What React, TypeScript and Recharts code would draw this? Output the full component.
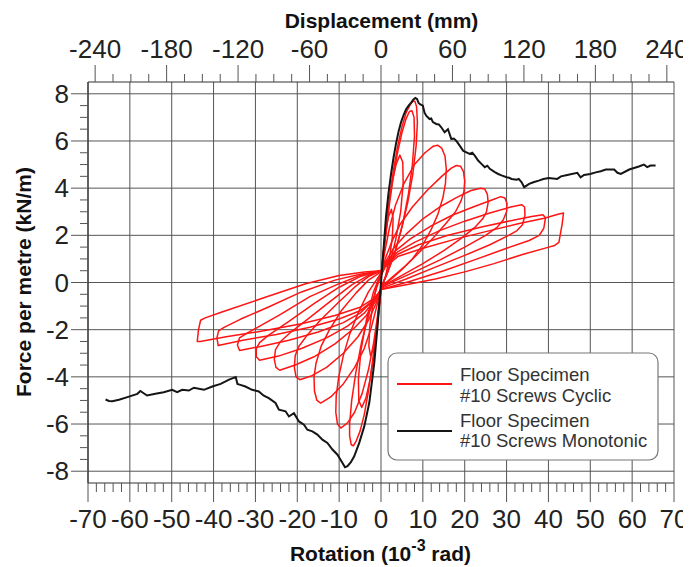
import React from 'react';
import { LineChart, Line, XAxis, YAxis, CartesianGrid } from 'recharts';

type Pt = [number, number];

// ---------- axis ticks / labels ----------
const rotationTicks = [-70,-68,-66,-64,-62,-60,-58,-56,-54,-52,-50,-48,-46,-44,-42,-40,-38,-36,-34,-32,-30,-28,-26,-24,-22,-20,-18,-16,-14,-12,-10,-8,-6,-4,-2,0,2,4,6,8,10,12,14,16,18,20,22,24,26,28,30,32,34,36,38,40,42,44,46,48,50,52,54,56,58,60,62,64,66,68,70];
const rotationLabels = [-70,-60,-50,-40,-30,-20,-10,0,10,20,30,40,50,60,70];
const displacementTicks = [-240,-225,-210,-195,-180,-165,-150,-135,-120,-105,-90,-75,-60,-45,-30,-15,0,15,30,45,60,75,90,105,120,135,150,165,180,195,210,225,240];
const displacementLabels = [-240,-180,-120,-60,0,60,120,180,240];
const forceTicks = [-8,-7.5,-7,-6.5,-6,-5.5,-5,-4.5,-4,-3.5,-3,-2.5,-2,-1.5,-1,-0.5,0,0.5,1,1.5,2,2.5,3,3.5,4,4.5,5,5.5,6,6.5,7,7.5,8];
const forceLabels = [-8,-6,-4,-2,0,2,4,6,8];
const gridRotations = [-70,-60,-50,-40,-30,-20,-10,0,10,20,30,40,50,60,70];
const gridForces = [-8,-6,-4,-2,0,2,4,6,8];

// ---------- cyclic test: positive half-loops ----------
const posLoop1: Pt[] = [[0,0.3],[1,1.9],[2,3.5],[3,4.8],[4,5.8],[5,6.6],[6,7.2],[7,7.55],[7.6,7.68],[8.1,7.68],[8.5,7.45],[8.7,6.8],[8.4,5.8],[7.6,4.6],[6.4,3.4],[4.8,2.2],[3,1.1],[1.3,0.3],[0,-0.2]];
const posLoop2: Pt[] = [[0,0.3],[1,1.8],[2,3.3],[3,4.55],[4,5.55],[5,6.35],[6,6.95],[6.8,7.25],[7.4,7.28],[7.9,7.0],[8.0,6.2],[7.5,5.0],[6.6,3.8],[5.2,2.5],[3.4,1.3],[1.4,0.35],[0,-0.2]];
const posLoop3: Pt[] = [[0,0.3],[0.8,1.2],[2,2.3],[3.5,3.3],[5.5,4.2],[8,5.0],[10.5,5.5],[12.5,5.78],[13.5,5.82],[14.5,5.7],[15.3,5.35],[15.6,4.8],[15.4,4.2],[14.8,3.6],[13.6,2.9],[12,2.25],[10,1.6],[7.5,1.0],[5,0.55],[2.5,0.15],[0,-0.2]];
const posLoop4: Pt[] = [[0,0.3],[1,1.0],[2.5,1.7],[4.5,2.45],[7.5,3.2],[11,3.9],[14.5,4.5],[16.8,4.85],[18,4.96],[19,4.93],[19.7,4.7],[20,4.3],[19.8,3.85],[19.1,3.45],[17.8,3.0],[15.5,2.5],[12.5,1.9],[9,1.25],[5.5,0.65],[2.5,0.2],[0,-0.2]];
const posLoop5: Pt[] = [[0,0.3],[1,0.85],[3,1.45],[6,2.05],[10,2.7],[14,3.2],[18,3.6],[21.5,3.9],[23.8,4.0],[24.8,3.96],[25.4,3.75],[25.6,3.4],[25.2,3.0],[24.3,2.7],[22.5,2.35],[19,1.85],[15,1.35],[10,0.8],[5,0.3],[0,-0.2]];
const posLoop6: Pt[] = [[0,0.3],[1,0.8],[3.5,1.35],[7,1.85],[12,2.4],[17,2.85],[22,3.2],[26.5,3.5],[28.6,3.64],[29.6,3.58],[30.1,3.35],[30,3.0],[29.2,2.65],[27.8,2.35],[25,2.0],[20,1.5],[14,0.95],[8,0.45],[3,0.05],[0,-0.2]];
const posLoop7: Pt[] = [[0,0.3],[1,0.75],[4,1.3],[8,1.7],[14,2.2],[20,2.6],[26,2.95],[31,3.2],[33.6,3.3],[34.3,3.2],[34.4,2.85],[33.8,2.45],[32.5,2.2],[30.5,2.0],[26,1.6],[20,1.15],[13,0.65],[6,0.15],[0,-0.25]];
const posLoop8: Pt[] = [[0,0.3],[1,0.7],[4,1.2],[9,1.6],[16,2.0],[24,2.35],[31,2.62],[36,2.8],[38.7,2.87],[39.3,2.75],[38.9,2.3],[37.8,2.0],[35.4,1.78],[30,1.45],[23,1.0],[15,0.5],[7,0.05],[0,-0.3]];
const posLoop9: Pt[] = [[0,0.3],[1,0.65],[4,1.1],[10,1.45],[18,1.85],[26,2.2],[33,2.5],[39,2.72],[42.5,2.9],[43.6,2.95],[43.3,2.5],[42.5,1.7],[41.5,1.57],[40.1,1.5],[34,1.2],[27,0.8],[20,0.45],[13,0.15],[6,-0.1],[0,-0.3]];

// ---------- cyclic test: negative half-loops ----------
const negLoop1: Pt[] = [[0,-0.3],[-1,-1.8],[-2,-3.3],[-3,-4.6],[-4,-5.6],[-5,-6.3],[-6,-6.75],[-6.6,-6.92],[-7.1,-6.88],[-7.5,-6.5],[-7.5,-6.0],[-7,-5.0],[-6,-3.8],[-4.6,-2.5],[-2.8,-1.3],[-1.2,-0.3],[0,0.3]];
const negLoop2: Pt[] = [[0,-0.3],[-0.8,-1.4],[-1.8,-2.6],[-3,-3.7],[-4.5,-4.7],[-6.3,-5.5],[-8,-5.95],[-9.6,-6.17],[-10.4,-6.0],[-10.8,-5.5],[-10.7,-4.8],[-10.1,-4.0],[-9,-3.1],[-7.5,-2.2],[-5.5,-1.3],[-3,-0.4],[0,0.4]];
const negLoop3: Pt[] = [[0,-0.3],[-1,-1.0],[-2.3,-1.9],[-4,-2.8],[-6.3,-3.6],[-9,-4.3],[-12,-4.85],[-14.4,-5.11],[-15.3,-5.0],[-15.9,-4.6],[-16,-4.0],[-15.5,-3.4],[-14.3,-2.7],[-12.3,-2.0],[-9.5,-1.2],[-6,-0.45],[-3,0.1],[0,0.45]];
const negLoop4: Pt[] = [[0,-0.3],[-1.2,-0.9],[-3,-1.6],[-5.5,-2.3],[-9,-3.0],[-13,-3.6],[-16.5,-3.95],[-19.4,-4.12],[-20.3,-4.0],[-20.7,-3.6],[-20.5,-3.1],[-19.6,-2.7],[-17.5,-2.2],[-14.5,-1.6],[-10.5,-0.9],[-6,-0.15],[-3,0.25],[0,0.5]];
const negLoop5: Pt[] = [[0,-0.3],[-1.3,-0.8],[-3.5,-1.4],[-6.5,-1.95],[-11,-2.6],[-16,-3.15],[-20.5,-3.5],[-24.2,-3.72],[-25.1,-3.6],[-25.5,-3.25],[-25.2,-2.85],[-24,-2.5],[-21.5,-2.1],[-17.5,-1.55],[-12.5,-0.85],[-7,-0.1],[-3,0.3],[0,0.5]];
const negLoop6: Pt[] = [[0,-0.3],[-1.5,-0.75],[-4,-1.3],[-8,-1.85],[-13,-2.35],[-19,-2.8],[-24.5,-3.12],[-29,-3.3],[-29.8,-3.15],[-29.8,-2.8],[-29,-2.55],[-27,-2.25],[-22,-1.65],[-16,-0.9],[-10,-0.2],[-5,0.25],[0,0.5]];
const negLoop7: Pt[] = [[0,-0.3],[-1.5,-0.7],[-5,-1.3],[-9,-1.7],[-15,-2.1],[-22,-2.45],[-29,-2.72],[-33.8,-2.88],[-34.3,-2.65],[-33.8,-2.35],[-32.5,-2.2],[-29.5,-1.9],[-24,-1.35],[-17,-0.6],[-10,-0.05],[-5,0.3],[0,0.5]];
const negLoop8: Pt[] = [[0,-0.3],[-1.5,-0.7],[-5,-1.2],[-10,-1.55],[-17,-1.9],[-25,-2.2],[-33,-2.45],[-38.9,-2.67],[-39.2,-2.35],[-38.8,-2.05],[-37.5,-1.9],[-33.5,-1.55],[-27,-1.05],[-19,-0.4],[-11,0.1],[-5,0.35],[0,0.5]];
const negLoop9: Pt[] = [[0,-0.3],[-1.5,-0.65],[-5,-1.05],[-11,-1.4],[-19,-1.75],[-28,-2.05],[-37,-2.3],[-43.2,-2.5],[-43.9,-2.5],[-43.6,-2.0],[-43.1,-1.6],[-42,-1.5],[-38,-1.25],[-28,-0.65],[-18,-0.05],[-10,0.3],[-4,0.45],[0,0.5]];

// ---------- cyclic test: small early cycles ----------
const smallLoop1: Pt[] = [[0,0.3],[0.6,1.3],[1.2,2.2],[1.8,2.8],[2.5,3.1],[2.9,2.7],[2.7,1.9],[2.0,1.0],[1.0,0.2],[0,-0.3],[-0.6,-1.3],[-1.2,-2.2],[-1.8,-2.8],[-2.5,-3.1],[-2.9,-2.7],[-2.7,-1.9],[-2.0,-1.0],[-1.0,-0.1],[0,0.4]];
const smallLoop2: Pt[] = [[0,0.3],[0.8,1.7],[1.6,3.0],[2.6,4.2],[3.6,5.0],[4.5,5.4],[5.2,5.1],[5.3,4.2],[4.7,3.0],[3.5,1.8],[1.8,0.6],[0,-0.3],[-0.8,-1.7],[-1.6,-3.0],[-2.6,-4.1],[-3.6,-4.9],[-4.6,-5.3],[-5.3,-5.0],[-5.4,-4.1],[-4.8,-2.9],[-3.5,-1.6],[-1.8,-0.4],[0,0.4]];

// ---------- monotonic test ----------
const monotonicNegative: Pt[] = [[-65.8,-4.96],[-65,-5.02],[-64.2,-5.03],[-62.6,-4.97],[-60.6,-4.86],[-58.2,-4.72],[-57.5,-4.6],[-55.9,-4.79],[-53.9,-4.72],[-51.9,-4.65],[-49.9,-4.55],[-48.7,-4.65],[-47.5,-4.55],[-45.9,-4.58],[-44.7,-4.46],[-42.3,-4.55],[-40.3,-4.41],[-38.3,-4.3],[-36.3,-4.12],[-34.7,-4.01],[-34.3,-4.3],[-33.6,-4.34],[-32.4,-4.41],[-30.8,-4.55],[-29.2,-4.62],[-28,-4.8],[-26.8,-4.9],[-25.2,-5.11],[-24.4,-5.39],[-22.8,-5.46],[-22,-5.68],[-20.8,-5.54],[-19.6,-5.89],[-18.4,-6.03],[-17.6,-6.24],[-16.4,-6.31],[-15.2,-6.45],[-14,-6.66],[-12.8,-6.8],[-11.6,-7.08],[-10.4,-7.3],[-9.2,-7.65],[-8.6,-7.83],[-8,-7.79],[-7.2,-7.62],[-6.4,-7.37],[-5.2,-6.8],[-4,-6.1],[-2.8,-5.1],[-1.6,-3.4],[-0.8,-1.8],[0,0]];
const monotonicPositive: Pt[] = [[0,0],[0.6,1.4],[1.2,2.8],[1.8,3.8],[2.4,4.6],[3.0,5.3],[3.6,5.9],[4.2,6.4],[4.8,6.8],[5.4,7.1],[6,7.35],[6.6,7.5],[7.2,7.63],[7.7,7.75],[8.2,7.82],[8.6,7.78],[9.0,7.6],[9.4,7.55],[10,7.5],[10.4,7.2],[10.8,7.07],[11.6,6.93],[12,6.95],[12.4,6.8],[13.2,6.72],[13.8,6.7],[14.4,6.58],[15.2,6.37],[16,6.5],[16.8,6.08],[17.4,6.1],[18,6.0],[18.8,5.8],[19.6,5.59],[20.4,5.52],[21.2,5.45],[21.8,5.5],[22.4,5.38],[23.2,5.17],[24,5.03],[24.8,4.89],[25.4,4.95],[26,4.82],[27.2,4.68],[28,4.6],[28.8,4.54],[30,4.46],[30.6,4.44],[31.2,4.39],[32.4,4.36],[32.9,4.39],[33.6,4.25],[34.2,4.04],[35.4,4.18],[36.4,4.25],[37.7,4.32],[38.8,4.39],[40.1,4.43],[42.1,4.39],[43,4.5],[44.5,4.56],[46.9,4.65],[47.7,4.46],[48.5,4.56],[50,4.6],[51.3,4.67],[52.5,4.72],[53.7,4.79],[55.7,4.79],[56.5,4.65],[57.3,4.6],[59.3,4.79],[61.6,4.92],[62.8,5.0],[63.6,4.89],[64.4,4.96],[65.6,4.96]];

const cyclicLoops: Pt[][] = [
  smallLoop1, smallLoop2,
  posLoop1, posLoop2, posLoop3, posLoop4, posLoop5, posLoop6, posLoop7, posLoop8, posLoop9,
  negLoop1, negLoop2, negLoop3, negLoop4, negLoop5, negLoop6, negLoop7, negLoop8, negLoop9,
];
const monotonicCurve: Pt[] = [...monotonicNegative, ...monotonicPositive.slice(1)];

const toRows = (pts: Pt[]) => pts.map(([x, y]) => ({ x, y }));

// ---------- styling ----------
const FONT = '"Liberation Sans", Arial, Helvetica, sans-serif';
const W = 683;
const H = 559;
const TICK_COLOR = '#555';
const LABEL_COLOR = '#222';
const RED = '#ff1414';
const TICK_FONT_SIZE = 26;

const BottomTick = (props: any) => {
  const { x, y, payload } = props;
  const major = rotationLabels.includes(payload.value);
  return (
    <g>
      <line x1={x} y1={y} x2={x} y2={y + (major ? 19 : 9)} stroke={TICK_COLOR} strokeWidth={1} />
      {major && (
        <text x={x} y={y + 45} textAnchor="middle" fontSize={TICK_FONT_SIZE} fontFamily={FONT} fill={LABEL_COLOR}>
          {payload.value}
        </text>
      )}
    </g>
  );
};

const TopTick = (props: any) => {
  const { x, y, payload } = props;
  const major = displacementLabels.includes(payload.value);
  return (
    <g>
      <line x1={x} y1={y} x2={x} y2={y - (major ? 17 : 8)} stroke={TICK_COLOR} strokeWidth={1} />
      {major && (
        <text x={x} y={y - 24} textAnchor="middle" fontSize={TICK_FONT_SIZE} fontFamily={FONT} fill={LABEL_COLOR}>
          {payload.value}
        </text>
      )}
    </g>
  );
};

const LeftTick = (props: any) => {
  const { x, y, payload } = props;
  const major = forceLabels.includes(payload.value);
  return (
    <g>
      <line x1={x} y1={y} x2={x - (major ? 17 : 8)} y2={y} stroke={TICK_COLOR} strokeWidth={1} />
      {major && (
        <text x={x - 19} y={y + 9} textAnchor="end" fontSize={TICK_FONT_SIZE} fontFamily={FONT} fill={LABEL_COLOR}>
          {payload.value}
        </text>
      )}
    </g>
  );
};

export default function App() {
  return (
    <div style={{ position: 'relative', width: W, height: H, background: '#fff' }}>
      <LineChart width={W} height={H} margin={{ top: 14, right: 17, bottom: 24, left: 20 }}>
        <CartesianGrid
          xAxisId="rot"
          stroke="#555"
          strokeWidth={1}
          horizontalValues={gridForces}
          verticalValues={gridRotations}
        />
        <XAxis
          xAxisId="rot"
          type="number"
          dataKey="x"
          orientation="bottom"
          domain={[-70, 70]}
          allowDataOverflow
          ticks={rotationTicks}
          interval={0}
          tickSize={0}
          tickMargin={0}
          tickLine={false}
          tick={BottomTick}
          height={60}
          axisLine={{ stroke: '#333', strokeWidth: 1.2 }}
        />
        <XAxis
          xAxisId="disp"
          type="number"
          dataKey="x"
          orientation="top"
          domain={[-246, 246]}
          allowDataOverflow
          ticks={displacementTicks}
          interval={0}
          tickSize={0}
          tickMargin={0}
          tickLine={false}
          tick={TopTick}
          height={60}
          axisLine={{ stroke: '#333', strokeWidth: 1.2 }}
        />
        <YAxis
          type="number"
          domain={[-8.5, 8.5]}
          allowDataOverflow
          ticks={forceTicks}
          interval={0}
          tickSize={0}
          tickMargin={0}
          tickLine={false}
          tick={LeftTick}
          width={60}
          axisLine={{ stroke: '#333', strokeWidth: 1.2 }}
        />
        {cyclicLoops.map((loop, i) => (
          <Line
            key={'c' + i}
            xAxisId="rot"
            data={toRows(loop)}
            dataKey="y"
            type="linear"
            stroke={RED}
            strokeWidth={1.5}
            strokeLinejoin="round"
            dot={false}
            activeDot={false}
            isAnimationActive={false}
          />
        ))}
        <Line
          xAxisId="rot"
          data={toRows(monotonicCurve)}
          dataKey="y"
          type="linear"
          stroke="#151515"
          strokeWidth={2}
          dot={false}
          activeDot={false}
          isAnimationActive={false}
        />
      </LineChart>
      <svg
        width={W}
        height={H}
        style={{ position: 'absolute', left: 0, top: 0, pointerEvents: 'none' }}
        fontFamily={FONT}
      >
        <text x={373.5} y={20} textAnchor="middle" fontSize={21} fontWeight="bold" fill="#111">
          Displacement (mm)
        </text>
        <text x={372.5} y={553} textAnchor="middle" fontSize={21} fontWeight="bold" fill="#111">
          Rotation (10<tspan fontSize={16} dy={-10}>-3</tspan>
          <tspan dy={10}> rad)</tspan>
        </text>
        <text
          x={23}
          y={274}
          textAnchor="middle"
          fontSize={21}
          fontWeight="bold"
          fill="#111"
          transform="rotate(-90, 23, 274)"
        >
          Force per metre (kN/m)
        </text>
        <g>
          <rect x={380} y={345} width={270} height={107} rx={9} ry={9} fill="#fff" stroke="#777" strokeWidth={1.2} />
          <line x1={389} y1={376} x2={444} y2={376} stroke={RED} strokeWidth={2} />
          <text x={452} y={373} fontSize={18.5} fill="#333">Floor Specimen</text>
          <text x={452} y={394} fontSize={18.5} fill="#333">#10 Screws Cyclic</text>
          <line x1={389} y1={423} x2={444} y2={423} stroke="#151515" strokeWidth={2} />
          <text x={452} y={419} fontSize={18.5} fill="#333">Floor Specimen</text>
          <text x={452} y={439} fontSize={18.5} fill="#333">#10 Screws Monotonic</text>
        </g>
      </svg>
    </div>
  );
}
